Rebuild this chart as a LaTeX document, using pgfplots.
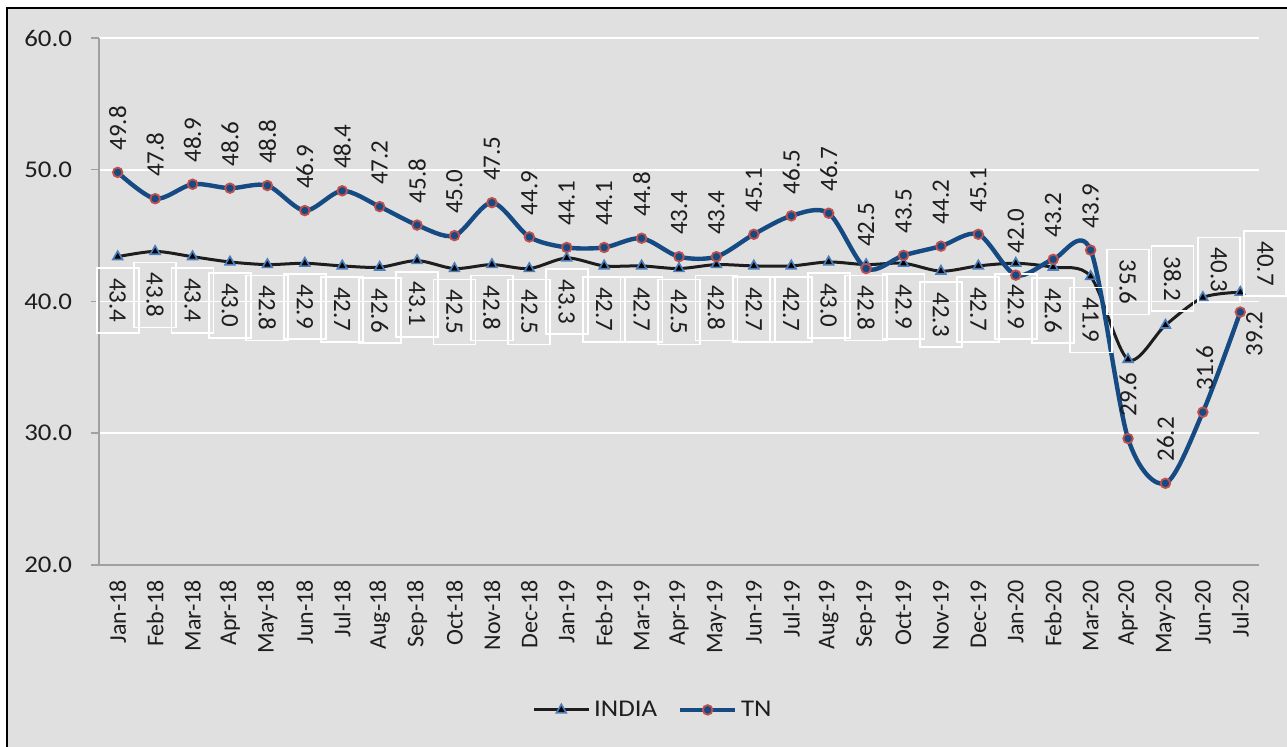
\documentclass[border=0pt]{standalone}
\usepackage{fontspec}
\setmainfont[FakeStretch=1.12]{Carlito}
\newfontfamily\rotfont{Carlito}
\usepackage{pgfplots}
\usepackage{pgfplotstable}
\pgfplotsset{compat=1.18}

\definecolor{bg}{RGB}{224,224,224}
\definecolor{axgray}{RGB}{160,160,160}
\definecolor{txt}{RGB}{30,30,30}
\definecolor{indiaL}{RGB}{30,28,28}
\definecolor{triblue}{RGB}{74,126,187}
\definecolor{tnL}{RGB}{22,74,130}
\definecolor{tnred}{RGB}{192,80,77}

% x, value, label shift (pt) for each series
\pgfplotstableread{
x india ix iy tn tx ty
0 43.4 0 -21.75 49.8 0 22
1 43.8 0 -21.75 47.8 0 22
2 43.4 0 -21.75 48.9 0 22
3 43.0 0 -21.75 48.6 0 22
4 42.8 0 -21.75 48.8 0 22
5 42.9 0 -21.75 46.9 0 22
6 42.7 0 -21.75 48.4 0 22
7 42.6 0 -21.75 47.2 0 22
8 43.1 0 -21.75 45.8 0 22
9 42.5 0 -21.75 45.0 0 22
10 42.8 0 -21.75 47.5 0 22
11 42.5 0 -21.75 44.9 0 22
12 43.3 0 -21.75 44.1 0 22
13 42.7 0 -21.75 44.1 0 22
14 42.7 0 -21.75 44.8 0 22
15 42.5 0 -21.75 43.4 0 22
16 42.8 0 -21.75 43.4 0 22
17 42.7 0 -21.75 45.1 0 22
18 42.7 0 -21.75 46.5 0 22
19 43.0 0 -21.75 46.7 0 22
20 42.8 0 -21.75 42.5 0 22
21 42.9 0 -21.75 43.5 0 22
22 42.3 0 -21.75 44.2 0 22
23 42.7 0 -21.75 45.1 0 22
24 42.9 0 -21.75 42.0 0 22
25 42.6 0 -21.75 43.2 0 22
26 41.9 0 -21.75 43.9 0 22
27 35.6 0 38.75 29.6 0 22
28 38.2 3.5 23.25 26.2 0 22
29 40.3 8 13.75 31.6 1 22
30 40.7 12.5 14.25 39.2 7 -11
}\data

\begin{document}
\begin{tikzpicture}
\useasboundingbox (0pt,0pt) rectangle (643.5pt,373.5pt);
\fill[bg] (3.5pt,0pt) rectangle (643.5pt,369.5pt);
\draw[black, line width=1pt] (3.5pt,-2pt) -- (3.5pt,369.5pt) -- (646pt,369.5pt);
\begin{axis}[
    at={(49.5pt,91pt)}, anchor=south west,
    scale only axis, width=580pt, height=263.5pt,
    xmin=-0.5, xmax=30.5, ymin=20, ymax=60,
    axis x line*=bottom, axis y line*=left,
    axis line style={draw=axgray, line width=0.75pt, -},
    ytick={20,30,40,50,60},
    ymajorgrids, grid style={white, line width=0.9pt},
    xtick={0,...,30},
    xticklabels={Jan-18,Feb-18,Mar-18,Apr-18,May-18,Jun-18,Jul-18,Aug-18,Sep-18,Oct-18,Nov-18,Dec-18,
                 Jan-19,Feb-19,Mar-19,Apr-19,May-19,Jun-19,Jul-19,Aug-19,Sep-19,Oct-19,Nov-19,Dec-19,
                 Jan-20,Feb-20,Mar-20,Apr-20,May-20,Jun-20,Jul-20},
    xtick style={draw=none},
    extra x ticks={-0.5,0.5,...,30.5},
    extra x tick labels={},
    extra x tick style={tick style={draw=axgray, line width=0.75pt}},
    ytick style={draw=axgray, line width=0.75pt},
    tick align=outside, major tick length=4pt,
    ticklabel style={font=\fontsize{12}{14}\selectfont, text=txt},
    xticklabel style={rotate=90, anchor=east, font=\rotfont\fontsize{12}{14}\selectfont},
    yticklabel style={xshift=-6pt, /pgf/number format/.cd, fixed, fixed zerofill, precision=1, assume math mode=true},
    legend style={at={(0.4785,-0.275)}, anchor=center, draw=none, fill=none,
        font=\fontsize{12}{14}\selectfont, text=txt,
        /tikz/every even column/.append style={column sep=8.5pt}},
    legend columns=2,
    legend image code/.code={\draw[#1, mark repeat=2, mark phase=2]
        plot coordinates {(0cm,0cm) (0.48cm,0cm) (0.96cm,0cm)};},
    clip=false,
]
\addplot[indiaL, line width=1.5pt, smooth,
    mark=triangle*, mark size=2.8pt,
    mark options={fill=black, draw=triblue, line width=0.8pt, solid},
    nodes near coords={\pgfmathprintnumber[fixed,fixed zerofill,precision=1,assume math mode=true]{\pgfplotspointmeta}},
    point meta=y,
    visualization depends on={\thisrow{ix} \as \ix},
    visualization depends on={\thisrow{iy} \as \iy},
    every node near coord/.append style={font=\rotfont\fontsize{12.5}{14}\selectfont, text=txt,
        xshift=\ix pt, yshift=\iy pt, rotate=-90, anchor=center,
        draw=white, line width=0.9pt, fill=none,
        minimum width=32.5pt, minimum height=21pt, inner sep=0pt}
] table[x=x, y=india] {\data};
\addlegendentry{INDIA}
\addplot[tnL, line width=2.2pt, smooth,
    mark=*, mark size=2.4pt,
    mark options={fill=tnL, draw=tnred, line width=0.9pt, solid},
    nodes near coords={\pgfmathprintnumber[fixed,fixed zerofill,precision=1,assume math mode=true]{\pgfplotspointmeta}},
    point meta=y,
    visualization depends on={\thisrow{tx} \as \tx},
    visualization depends on={\thisrow{ty} \as \ty},
    every node near coord/.append style={font=\rotfont\fontsize{12.5}{14}\selectfont, text=txt,
        xshift=\tx pt, yshift=\ty pt, rotate=90, anchor=center, inner sep=0pt}
] table[x=x, y=tn] {\data};
\addlegendentry{TN}
\end{axis}
\end{tikzpicture}
\end{document}
